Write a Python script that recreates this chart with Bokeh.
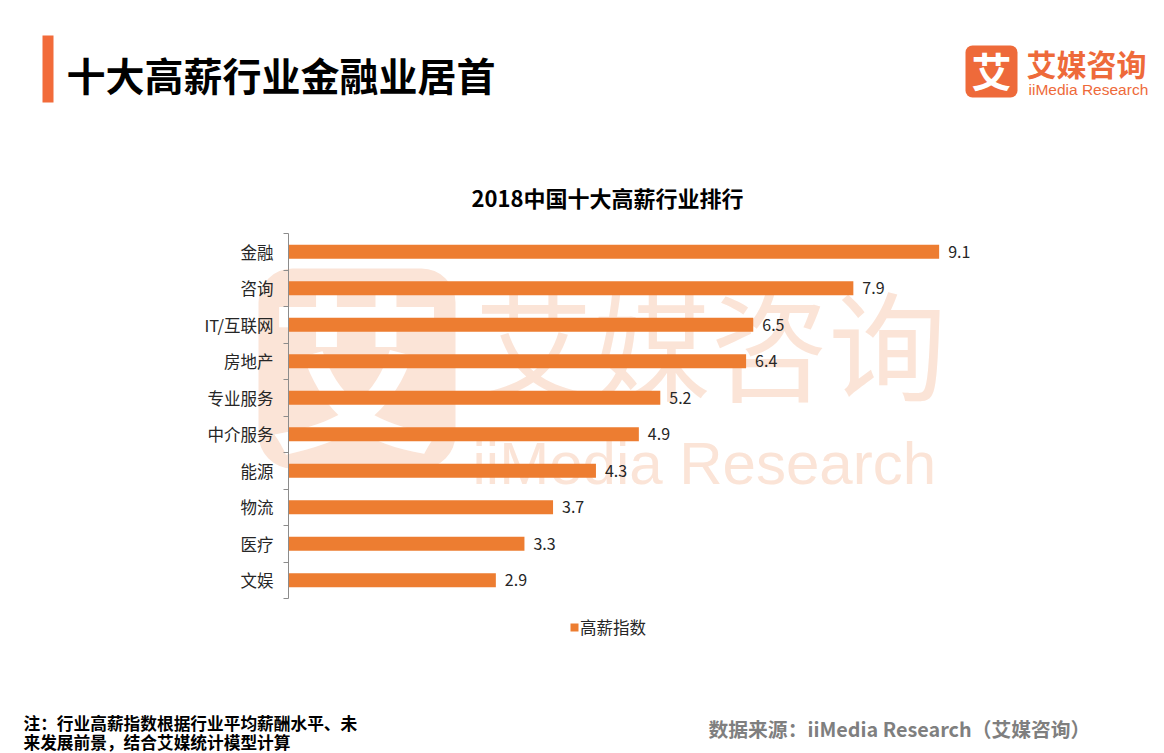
from bokeh.plotting import figure
from bokeh.models import (Range1d, FixedTicker, ColumnDataSource, LabelSet, Label,
                          BoxAnnotation, Legend, LegendItem)
from bokeh.core.properties import value
from bokeh.embed import file_html
from bokeh.resources import INLINE

# ---------------- data ----------------
categories = ["金融", "咨询", "IT/互联网", "房地产", "专业服务", "中介服务", "能源", "物流", "医疗", "文娱"]
values = [9.1, 7.9, 6.5, 6.4, 5.2, 4.9, 4.3, 3.7, 3.3, 2.9]
series_name = "高薪指数"
page_title = "十大高薪行业金融业居首"
chart_title = "2018中国十大高薪行业排行"
note_lines = ["注：行业高薪指数根据行业平均薪酬水平、未", "来发展前景，结合艾媒统计模型计算"]
source_text = "数据来源：iiMedia Research（艾媒咨询）"
brand_cn = "艾媒咨询"
brand_en = "iiMedia Research"

CJK = "Noto Sans CJK SC"
ORANGE = "#ED7D31"
BRAND = "#EE6A3A"
WM = "#FBE4D7"

# ---------------- layout (pixels) ----------------
W, H = 1164, 753
AXIS_X = 288          # pixel of value 0
PX_PER_UNIT = 71.5    # pixels per value unit
CAT_TOP = 233         # pixel of the top category boundary
CAT_PX = 36.5         # pixels per category band

n = len(categories)
ypos = [i + 0.5 for i in range(n)]
src = ColumnDataSource(dict(y=ypos, v=values, txt=[f"{v:.1f}" for v in values]))

p = figure(width=W, height=H, output_backend="svg", toolbar_location=None, title=None,
           x_range=Range1d(-AXIS_X / PX_PER_UNIT, (W - AXIS_X) / PX_PER_UNIT),
           y_range=Range1d((H - CAT_TOP) / CAT_PX, -CAT_TOP / CAT_PX),
           min_border_left=0, min_border_right=0, min_border_top=0,
           min_border_bottom=0, outline_line_color=None)
p.xaxis.visible = False
p.xgrid.visible = False
p.ygrid.visible = False

ax = p.yaxis[0]
ax.fixed_location = 0
ax.bounds = (0, n)
ax.ticker = FixedTicker(ticks=ypos, minor_ticks=list(range(n + 1)))
ax.major_label_overrides = {y: c for y, c in zip(ypos, categories)}
ax.major_tick_line_color = None
ax.major_tick_out = 0
ax.major_tick_in = 0
ax.minor_tick_out = 5
ax.minor_tick_in = 0
ax.minor_tick_line_color = "#8C8C8C"
ax.axis_line_color = "#8C8C8C"
ax.major_label_standoff = 10
ax.major_label_text_font = CJK
ax.major_label_text_font_size = "16.5px"
ax.major_label_text_color = "#262626"


def S(sx, sy):
    # picture pixel -> frame-relative screen units (y measured from bottom)
    return sx, H - sy


def lab(sx, sy, text, size, color="#000000", font=CJK, bold=False, align="left",
        baseline="middle", level="annotation"):
    x, y = S(sx, sy)
    p.add_layout(Label(x=x, y=y, x_units="screen", y_units="screen", text=text,
                       text_font=font, text_font_size=f"{size}px", text_color=color,
                       text_font_style="bold" if bold else "normal",
                       text_align=align, text_baseline=baseline, level=level))


def box(x0, y0, x1, y1, color, radius=0, level="annotation"):
    l, t = S(x0, y0)
    r, b = S(x1, y1)
    p.add_layout(BoxAnnotation(left=l, right=r, top=t, bottom=b,
                               left_units="screen", right_units="screen",
                               top_units="screen", bottom_units="screen",
                               fill_color=color, fill_alpha=1.0, line_color=None,
                               border_radius=radius, level=level))


# ---------------- watermark ----------------
box(258, 268, 455, 468, WM, radius=34, level="underlay")
lab(356, 362, "艾", 175, color="#FFFFFF", bold=True, align="center", level="underlay")
lab(474, 340, brand_cn, 118, color=WM, level="underlay")
lab(472, 463, brand_en, 60, color=WM, font="Liberation Sans", baseline="alphabetic",
    level="underlay")

# ---------------- bars ----------------
r = p.hbar(y="y", right="v", left=0, height=0.38, source=src,
           fill_color=ORANGE, line_color=None)

p.add_layout(LabelSet(x="v", y="y", text="txt", source=src, x_offset=9,
                      text_font=value(CJK), text_font_size="16px",
                      text_color="#262626", text_baseline="middle"))

legend = Legend(items=[LegendItem(label=series_name, renderers=[r])],
                location=(569, H - 639), orientation="horizontal", padding=0, margin=0,
                border_line_color=None, background_fill_alpha=0,
                glyph_width=10, glyph_height=10, label_standoff=1,
                label_text_font=CJK, label_text_font_size="16.5px",
                label_text_color="#262626", label_height=20)
p.add_layout(legend)

# ---------------- header ----------------
box(42, 35, 53, 102, "#F26B3A")
lab(66, 73, page_title, 39, bold=True)
lab(607, 196, chart_title, 22, bold=True, align="center")

box(965, 45, 1017, 97, BRAND, radius=7)
lab(991, 69, "艾", 40, color="#FFFFFF", bold=True, align="center")
lab(1026, 62, brand_cn, 30, color=BRAND, bold=True)
lab(1028, 89, brand_en, 15.5, color=BRAND, font="Liberation Sans")

# ---------------- footer ----------------
lab(23, 722.5, note_lines[0], 16.7, bold=True)
lab(23, 741, note_lines[1], 16.7, bold=True)
lab(708, 728, source_text, 19.8, color="#7F7F7F", bold=True)

open("out.html", "w").write(file_html(p, INLINE))
